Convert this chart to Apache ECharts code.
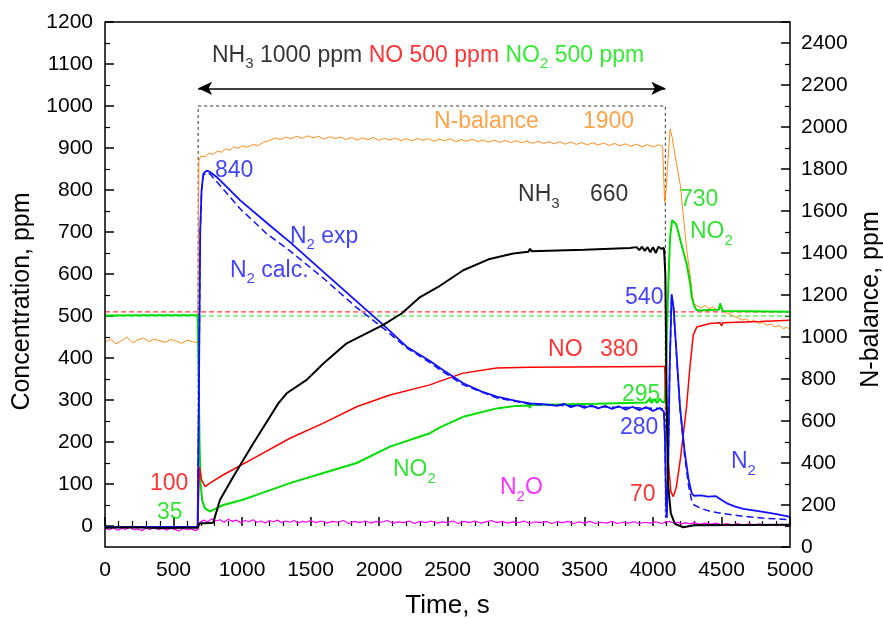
<!DOCTYPE html>
<html>
<head>
<meta charset="utf-8">
<script src="https://cdn.jsdelivr.net/npm/echarts@6/dist/echarts.min.js"></script>
<style>
html,body{margin:0;padding:0;background:#fff;}
#c{width:883px;height:619px;}
</style>
</head>
<body>
<div id="c"></div>
<script>
// ---------- DATA ----------
const xTicks = [0, 500, 1000, 1500, 2000, 2500, 3000, 3500, 4000, 4500, 5000];
const leftTicks = [0, 100, 200, 300, 400, 500, 600, 700, 800, 900, 1000, 1100, 1200];
const rightTicks = [0, 200, 400, 600, 800, 1000, 1200, 1400, 1600, 1800, 2000, 2200, 2400];

// NH3 (black), ppm
const nh3 = [[0,-4],[200,-3],[400,-5],[600,-4],[676,-4],[690,6],[700,8],[790,8],[839,62],[937,118],[1083,197],[1204,260],[1265,292],[1326,316],[1472,348],[1594,387],[1764,435],[2031,479],[2165,506],[2300,545],[2445,572],[2615,609],[2800,635],[2980,649],[3090,653],[3102,660],[3115,654],[3300,656],[3500,658],[3832,662],[3880,664],[3900,657],[3920,665],[3940,655],[3960,664],[3980,652],[4000,664],[4020,650],[4040,665],[4060,660],[4080,662],[4090,600],[4100,300],[4110,100],[4130,30],[4160,5],[4220,-3],[4300,2],[5000,3]];

// NO (red), ppm
const no = [[0,-3],[676,-3],[690,140],[705,110],[730,94],[766,102],[864,122],[1107,165],[1350,209],[1594,245],[1837,284],[2080,312],[2372,336],[2445,345],[2615,364],[2859,376],[3102,378],[4051,380],[4085,380],[4095,300],[4110,160],[4130,82],[4148,70],[4170,92],[4200,160],[4245,284],[4270,380],[4294,455],[4320,474],[4416,482],[4490,484],[4500,476],[4510,484],[4781,487],[5000,490]];

// NO2 (green), ppm
const no2 = [[0,501],[300,502],[676,502],[682,400],[690,200],[698,100],[710,60],[730,42],[766,35],[800,40],[864,50],[1000,62],[1107,74],[1350,102],[1594,126],[1837,150],[2080,189],[2372,221],[2445,235],[2615,260],[2859,280],[3000,286],[3095,287],[3102,281],[3110,288],[3400,290],[3589,291],[3800,293],[3950,294],[3970,301],[3990,293],[4010,302],[4030,293],[4050,303],[4070,294],[4085,296],[4095,380],[4110,560],[4125,690],[4140,728],[4150,732],[4170,718],[4200,680],[4245,625],[4270,580],[4282,546],[4300,525],[4318,514],[4350,513],[4400,514],[4480,515],[4490,530],[4500,520],[4510,512],[5000,510]];

// N2 exp (blue solid), ppm
const n2exp = [[0,-2],[676,-2],[685,300],[695,700],[705,800],[718,839],[742,846],[766,843],[815,831],[985,776],[1180,722],[1350,676],[1594,605],[1837,535],[2031,479],[2202,427],[2372,393],[2445,376],[2615,340],[2750,320],[2859,308],[3000,298],[3102,292],[3200,290],[3300,286],[3350,291],[3400,283],[3450,288],[3500,281],[3550,287],[3600,280],[3650,286],[3700,279],[3750,285],[3800,277],[3850,284],[3900,276],[3950,283],[4000,274],[4050,281],[4080,272],[4088,200],[4095,60],[4100,20],[4110,120],[4122,380],[4136,552],[4150,520],[4170,420],[4197,284],[4230,180],[4260,110],[4282,78],[4300,72],[4350,73],[4400,70],[4460,71],[4500,62],[4540,54],[4600,46],[4660,41],[4720,38],[4781,35],[4850,31],[4920,27],[5000,22]];

// N2 calc (blue dashed), ppm
const n2calc = [[0,-2],[676,-2],[685,300],[695,700],[705,800],[718,835],[742,842],[766,838],[815,820],[985,756],[1180,696],[1350,655],[1594,590],[1837,520],[2031,471],[2202,424],[2372,389],[2445,372],[2615,336],[2859,305],[3102,290],[3589,284],[4051,280],[4080,278],[4088,200],[4095,60],[4100,20],[4110,120],[4122,380],[4136,550],[4150,518],[4170,415],[4197,280],[4230,170],[4260,95],[4282,60],[4300,50],[4350,42],[4416,35],[4500,30],[4659,23],[4800,19],[5000,15]];

// N2O (magenta), ppm
const n2o = [[0,-6],[30,-9],[60,-4],[90,-10],[120,-6],[150,-8],[180,-3],[210,-9],[240,-7],[270,-11],[300,-5],[330,-8],[360,-4],[390,-9],[420,-6],[450,-10],[480,-5],[510,-8],[540,-12],[570,-6],[600,-9],[630,-7],[660,-11],[680,-8],[690,8],[720,14],[750,10],[780,17],[810,12],[840,15],[870,9],[900,16],[930,11],[960,14],[990,8],[1020,13],[1050,10],[1080,15],[1110,9],[1140,12],[1170,7],[1200,13],[1230,10],[1260,14],[1290,8],[1320,12],[1350,9],[1380,13],[1410,7],[1440,11],[1470,9],[1500,13],[1540,8],[1580,12],[1620,7],[1660,11],[1700,9],[1740,13],[1780,6],[1820,11],[1860,8],[1900,12],[1940,7],[1980,11],[2020,9],[2060,13],[2100,7],[2140,10],[2180,8],[2220,12],[2260,6],[2300,11],[2340,8],[2380,12],[2420,7],[2460,10],[2500,8],[2540,12],[2580,6],[2620,11],[2660,8],[2700,12],[2740,7],[2780,10],[2820,13],[2860,8],[2900,11],[2940,7],[2980,10],[3020,8],[3060,12],[3100,6],[3140,10],[3180,8],[3220,11],[3260,6],[3300,10],[3340,8],[3380,11],[3420,6],[3460,10],[3500,7],[3540,11],[3580,6],[3620,9],[3660,7],[3700,11],[3740,6],[3780,9],[3820,7],[3860,10],[3900,6],[3940,9],[3980,7],[4020,10],[4060,6],[4090,9],[4120,11],[4150,7],[4180,9],[4210,5],[4240,8],[4270,5],[4300,8],[4340,4],[4380,7],[4420,4],[4460,7],[4500,3],[4540,6],[4580,3],[4620,6],[4660,2],[4700,5],[4740,2],[4780,5],[4820,1],[4860,4],[4900,1],[4940,4],[4980,1],[5000,3]];

// N-balance (orange), right axis, ppm
const nBalance = [[0,975],[40,990],[80,968],[120,982],[160,1000],[200,972],[240,986],[280,995],[320,978],[360,990],[400,982],[440,975],[480,988],[520,980],[560,970],[600,985],[640,978],[676,972],[685,1840],[700,1862],[730,1858],[760,1875],[790,1870],[820,1885],[850,1880],[880,1896],[910,1890],[940,1905],[970,1898],[1000,1910],[1040,1904],[1080,1916],[1120,1912],[1160,1928],[1200,1935],[1240,1948],[1280,1940],[1320,1952],[1360,1944],[1400,1956],[1440,1946],[1480,1958],[1520,1948],[1560,1955],[1600,1942],[1640,1954],[1680,1945],[1720,1952],[1760,1940],[1800,1950],[1840,1938],[1880,1948],[1920,1940],[1960,1950],[2000,1936],[2040,1946],[2080,1938],[2120,1947],[2160,1935],[2200,1944],[2240,1934],[2280,1945],[2320,1937],[2360,1944],[2400,1932],[2440,1942],[2480,1934],[2520,1944],[2560,1930],[2600,1940],[2640,1932],[2680,1942],[2720,1930],[2760,1938],[2800,1928],[2840,1937],[2880,1927],[2920,1936],[2960,1926],[3000,1935],[3040,1925],[3080,1933],[3120,1922],[3160,1932],[3200,1922],[3240,1930],[3280,1920],[3320,1930],[3360,1918],[3400,1928],[3440,1917],[3480,1926],[3520,1915],[3560,1925],[3600,1914],[3640,1924],[3680,1912],[3720,1922],[3760,1910],[3800,1920],[3840,1908],[3880,1918],[3920,1906],[3960,1916],[4000,1905],[4040,1915],[4070,1908],[4085,1640],[4095,1700],[4110,1850],[4125,1990],[4140,1950],[4170,1830],[4200,1720],[4245,1420],[4270,1300],[4295,1160],[4320,1150],[4350,1138],[4380,1150],[4410,1135],[4440,1142],[4470,1128],[4500,1136],[4530,1115],[4560,1110],[4590,1098],[4620,1092],[4650,1080],[4680,1086],[4710,1072],[4740,1080],[4770,1064],[4800,1070],[4830,1056],[4860,1062],[4890,1048],[4920,1055],[4950,1040],[4980,1046],[5000,1035]];

// Reference (inlet) levels, ppm
const noInlet = [[0,510],[5000,510]];
const no2Inlet = [[0,500],[5000,500]];
// Feed period box and arrow (time s, ppm)
const feedBox = [[680,0],[680,1000],[4090,1000],[4090,0]];
const feedArrow = [[680,1042],[4090,1042]];

// Annotations: [time, ppm, text, colour key]
const notes = [
  [781, 1121, '{k|NH}{ks|3}{k| 1000 ppm }{r|NO 500 ppm }{g|NO}{gs|2}{g| 500 ppm}', 'title'],
  [2401, 962, '{a|N-balance}', 'o'],
  [3489, 962, '{a|1900}', 'o'],
  [803, 847, '{a|840}', 'b'],
  [1350, 690, '{a|N}{s|2}{a| exp}', 'b'],
  [912, 609, '{a|N}{s|2}{a| calc.}', 'b'],
  [3015, 788, '{a|NH}{s|3}', 'k'],
  [3540, 788, '{a|660}', 'k'],
  [4197, 776, '{a|730}', 'g'],
  [4270, 700, '{a|NO}{s|2}', 'g'],
  [3796, 543, '{a|540}', 'b'],
  [3234, 419, '{a|NO}', 'r'],
  [3613, 419, '{a|380}', 'r'],
  [3774, 312, '{a|295}', 'g'],
  [3759, 234, '{a|280}', 'b'],
  [4569, 153, '{a|N}{s|2}', 'b'],
  [3832, 74, '{a|70}', 'r'],
  [328, 100, '{a|100}', 'r'],
  [380, 31, '{a|35}', 'g'],
  [2102, 134, '{a|NO}{s|2}', 'g'],
  [2883, 91, '{a|N}{s|2}{a|O}', 'm']
];

// ---------- STYLE ----------
const FONT = 'Liberation Sans, Arial, Helvetica, sans-serif';
const C = {k:'#000000', r:'#ff0000', g:'#00dd00', b:'#1010ff', o:'#ff8c1a', m:'#ff00ff'};
const ANN = 23, SUB = 15;
function rich(color){
  return {
    a:{fontFamily:FONT,fontSize:ANN,lineHeight:ANN,color:color},
    s:{fontFamily:FONT,fontSize:SUB,lineHeight:SUB,color:color,verticalAlign:'top',padding:[13,0,0,0]}
  };
}
const titleRich = {
  k:{fontFamily:FONT,fontSize:ANN,lineHeight:ANN,color:C.k},
  ks:{fontFamily:FONT,fontSize:SUB,lineHeight:SUB,color:C.k,verticalAlign:'top',padding:[13,0,0,0]},
  r:{fontFamily:FONT,fontSize:ANN,lineHeight:ANN,color:C.r},
  g:{fontFamily:FONT,fontSize:ANN,lineHeight:ANN,color:'#00e600'},
  gs:{fontFamily:FONT,fontSize:SUB,lineHeight:SUB,color:'#00e600',verticalAlign:'top',padding:[13,0,0,0]}
};

const noteData = notes.map(n => ({
  value:[n[0], n[1]],
  label:{formatter:n[2], rich: n[3]==='title' ? titleRich : rich(C[n[3]])}
}));

function line(name, data, color, width, yIdx, dash, z){
  return {
    name:name, type:'line', data:data, xAxisIndex:0, yAxisIndex:yIdx,
    showSymbol:false, symbol:'none', silent:true, z:z||2,
    lineStyle:{color:color, width:width, type:dash||'solid'}
  };
}

const tickFont = {fontFamily:FONT, fontSize:21, color:'#000'};
const titleFont = {fontFamily:FONT, fontSize:25, color:'#000'};

const option = {
  animation:false,
  backgroundColor:'#fff',
  grid:[
    {left:105, right:93, top:22, bottom:72, containLabel:false, outerBoundsMode:'none',
     show:true, borderColor:'#000', borderWidth:1.5, backgroundColor:'transparent', z:5},
    {left:105, right:93, top:22, bottom:92.8, containLabel:false, outerBoundsMode:'none', show:false}
  ],
  xAxis:[
    {type:'value', gridIndex:0, min:0, max:5000, interval:500,
     axisLine:{show:false},
     axisTick:{show:true, inside:true, length:9, lineStyle:{color:'#000', width:1.5}},
     minorTick:{show:true, splitNumber:5, length:5, lineStyle:{color:'#000', width:1.2}},
     splitLine:{show:false},
     axisLabel:{...tickFont, margin:13, formatter:v => String(v)},
     name:'Time, s', nameLocation:'middle', nameGap:46, nameTextStyle:{...titleFont, fontSize:26}},
    {type:'value', gridIndex:1, min:0, max:5000, show:false}
  ],
  yAxis:[
    {type:'value', gridIndex:0, min:-50, max:1200, position:'left',
     axisLine:{show:false}, axisTick:{show:false}, axisLabel:{show:false}, splitLine:{show:false},
     name:'Concentration, ppm', nameLocation:'middle', nameGap:70, nameRotate:90,
     nameTextStyle:{...titleFont, padding:[0,34,0,0]}},
    {type:'value', gridIndex:0, min:0, max:2500, interval:200, position:'right',
     axisLine:{show:false},
     axisTick:{show:true, inside:true, length:9, lineStyle:{color:'#000', width:1.5}},
     minorTick:{show:true, splitNumber:2, length:5, lineStyle:{color:'#000', width:1.2}},
     splitLine:{show:false},
     axisLabel:{...tickFont, margin:11, formatter:v => (v===2500 ? '' : String(v))},
     name:'N-balance, ppm', nameLocation:'middle', nameGap:57, nameRotate:90,
     nameTextStyle:{...titleFont, padding:[0,30,0,0]}},
    {type:'value', gridIndex:1, min:0, max:1200, interval:100, position:'left',
     axisLine:{show:false},
     axisTick:{show:true, inside:true, length:9, lineStyle:{color:'#000', width:1.5}},
     minorTick:{show:true, splitNumber:2, length:5, lineStyle:{color:'#000', width:1.2}},
     splitLine:{show:false},
     axisLabel:{...tickFont, margin:12, formatter:v => String(v)}}
  ],
  series:[
    line('NO inlet', noInlet, '#ff4040', 1.2, 0, [5,3], 1),
    line('NO2 inlet', no2Inlet, '#22dd22', 1.2, 0, [5,3], 1),
    line('Feed box', feedBox, '#333', 1, 0, [3,3], 1),
    line('N-balance', nBalance, C.o, 1, 1, 'solid', 2),
    line('N2O', n2o, C.m, 1.2, 0, 'solid', 2),
    line('NO2', no2, C.g, 2, 0, 'solid', 3),
    line('NO', no, C.r, 1.5, 0, 'solid', 3),
    line('N2 calc', n2calc, C.b, 1.5, 0, [7,4], 3),
    line('N2 exp', n2exp, C.b, 1.8, 0, 'solid', 4),
    line('NH3', nh3, C.k, 2, 0, 'solid', 4),
    {
      name:'Feed arrow', type:'line', data:feedArrow, xAxisIndex:0, yAxisIndex:0,
      showSymbol:false, symbol:'none', silent:true, lineStyle:{opacity:0},
      markLine:{
        silent:true, symbol:['arrow','arrow'], symbolSize:[10,14],
        label:{show:false},
        lineStyle:{color:'#000', width:1.5, type:'solid'},
        data:[[{coord:feedArrow[0]},{coord:feedArrow[1]}]]
      }
    },
    {
      name:'notes', type:'scatter', xAxisIndex:0, yAxisIndex:0, symbolSize:0, silent:true, z:10,
      data:noteData,
      label:{show:true, position:'right', distance:0, align:'left', verticalAlign:'middle'}
    }
  ]
};

const chart = echarts.init(document.getElementById('c'), null, {renderer:'canvas'});
chart.setOption(option);
</script>
</body>
</html>
